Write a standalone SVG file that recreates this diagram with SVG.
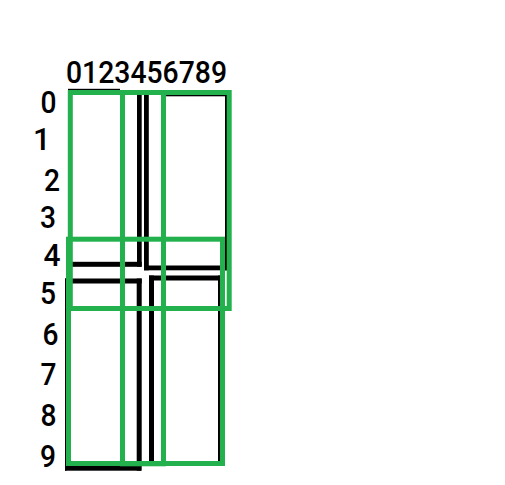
<svg xmlns="http://www.w3.org/2000/svg" width="505" height="485" viewBox="0 0 505 485">
<style>
.lbl{font-family:Roboto,"Liberation Sans",sans-serif;font-size:31px;font-weight:500;fill:#000}
.g{fill:none;stroke:#22b14c;stroke-width:5}
.k{fill:#000}
</style>
<rect width="505" height="485" fill="#fff"/>
<g id="labels">
<text class="lbl" x="66" y="83" textLength="161" lengthAdjust="spacingAndGlyphs">0123456789</text>
<text class="lbl" x="40.5" y="113" textLength="16" lengthAdjust="spacingAndGlyphs">0</text>
<text class="lbl" x="33" y="150">1</text>
<text class="lbl" x="44" y="191" textLength="16" lengthAdjust="spacingAndGlyphs">2</text>
<text class="lbl" x="40" y="228" textLength="16" lengthAdjust="spacingAndGlyphs">3</text>
<text class="lbl" x="43.5" y="266" textLength="17" lengthAdjust="spacingAndGlyphs">4</text>
<text class="lbl" x="40" y="304" textLength="16" lengthAdjust="spacingAndGlyphs">5</text>
<text class="lbl" x="42.5" y="345" textLength="16" lengthAdjust="spacingAndGlyphs">6</text>
<text class="lbl" x="40.5" y="385" textLength="16" lengthAdjust="spacingAndGlyphs">7</text>
<text class="lbl" x="40.5" y="426" textLength="16" lengthAdjust="spacingAndGlyphs">8</text>
<text class="lbl" x="40" y="467" textLength="16" lengthAdjust="spacingAndGlyphs">9</text>
</g>
<g id="black-lines">
<rect class="k" x="68" y="88.8" width="52" height="1.5"/>
<rect class="k" x="137" y="90" width="4.7" height="176.7"/>
<rect class="k" x="70" y="261.8" width="71.7" height="5"/>
<rect class="k" x="144" y="95" width="4.8" height="175.3"/>
<rect class="k" x="164" y="95" width="63" height="1.3"/>
<rect class="k" x="225" y="95" width="2" height="175.3"/>
<rect class="k" x="144" y="265.5" width="83" height="4.8"/>
<rect class="k" x="65" y="278.5" width="76.7" height="5"/>
<rect class="k" x="136.7" y="278.5" width="5" height="192.2"/>
<rect class="k" x="65" y="278.5" width="1.5" height="192.2"/>
<rect class="k" x="65" y="466" width="76" height="4.7"/>
<rect class="k" x="149" y="275.5" width="71" height="5"/>
<rect class="k" x="149" y="275.5" width="5" height="188"/>
<rect class="k" x="218" y="275.5" width="2.2" height="188"/>
</g>
<g id="green-boxes">
<rect id="box-top" class="g" x="70.3" y="92.5" width="158.9" height="216"/>
<rect id="box-middle-column" class="g" x="122.5" y="92.5" width="41" height="371.3"/>
<rect id="box-bottom" class="g" x="68.5" y="239.2" width="154" height="224.3"/>
</g>
</svg>
